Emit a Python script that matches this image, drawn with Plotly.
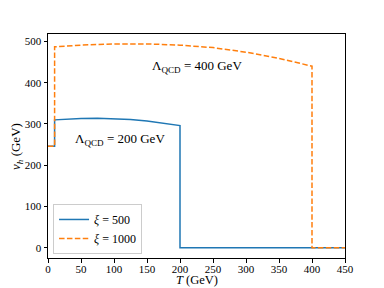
import plotly.graph_objects as go

# Data
T_500 = [0, 10, 10, 25, 50, 75, 100, 125, 150, 175, 200, 200, 450]
vh_500 = [246, 246, 310, 312, 313.5, 314, 313, 311, 307, 302, 296, 0, 0]
T_1000 = [0, 10, 10, 50, 100, 150, 200, 250, 300, 350, 400, 400, 450]
vh_1000 = [246, 246, 487, 491, 494, 494, 491, 485, 474, 459, 440, 0, 0]

x_ticks = [0, 50, 100, 150, 200, 250, 300, 350, 400, 450]
y_ticks = [0, 100, 200, 300, 400, 500]

FONT = "Liberation Serif"

fig = go.Figure()
fig.add_trace(go.Scatter(x=T_500, y=vh_500, mode="lines", name="<i>ξ</i>\u00a0=\u00a0500",
                         line=dict(color="#1f77b4", width=1.5)))
fig.add_trace(go.Scatter(x=T_1000, y=vh_1000, mode="lines", name="<i>ξ</i>\u00a0=\u00a01000",
                         line=dict(color="#ff7f0e", width=1.5, dash="5.5px,2.4px")))

fig.add_annotation(x=225, y=439, text="Λ<sub>QCD</sub>\u00a0=\u00a0400 GeV", showarrow=False,
                   font=dict(family=FONT, size=13, color="black"))
fig.add_annotation(x=109, y=262, text="Λ<sub>QCD</sub>\u00a0=\u00a0200 GeV", showarrow=False,
                   font=dict(family=FONT, size=13, color="black"))

# axis titles as paper-positioned annotations
fig.add_annotation(xref="paper", yref="paper", x=0.5, y=-0.099, yanchor="middle",
                   text="<i>T</i>\u00a0(GeV)", showarrow=False, borderpad=0,
                   font=dict(family=FONT, size=12.5, color="black"))
fig.add_annotation(xref="paper", yref="paper", x=-0.108, y=0.5, xanchor="center", yanchor="middle",
                   text="<i>v<sub>h</sub></i> (GeV)", textangle=-90, showarrow=False,
                   font=dict(family=FONT, size=13, color="black"))

axis_common = dict(showline=True, linecolor="black", linewidth=1, mirror=True,
                   ticks="outside", ticklen=3.5, tickcolor="black", tickwidth=1,
                   showgrid=False, zeroline=False, automargin=False,
                   tickfont=dict(family=FONT, size=11, color="black"))

fig.update_xaxes(range=[0, 450], tickvals=x_ticks, ticklabelstandoff=-3, **axis_common)
fig.update_yaxes(range=[-24.7, 518], tickvals=y_ticks, **axis_common)

fig.update_layout(
    width=384, height=288,
    margin=dict(l=48, r=39, t=34, b=30, autoexpand=False),
    paper_bgcolor="white", plot_bgcolor="white",
    showlegend=True,
    legend=dict(x=0.017, y=0.018, xanchor="left", yanchor="bottom",
                bgcolor="rgba(255,255,255,0.8)", bordercolor="#cccccc", borderwidth=1,
                font=dict(family=FONT, size=12, color="black"),
                tracegroupgap=0, itemwidth=30),
    font=dict(family=FONT, color="black"),
)

fig.write_html("out.html", config={"displayModeBar": False},
               post_script="document.body.style.margin='0';document.body.style.overflow='hidden';")
